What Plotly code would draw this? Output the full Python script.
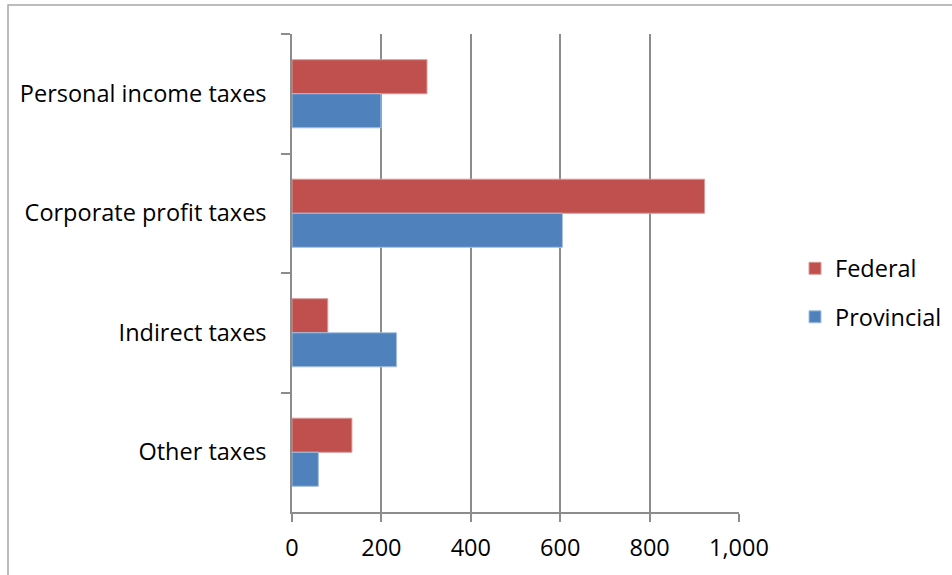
import plotly.graph_objects as go

categories = ["Personal income taxes", "Corporate profit taxes", "Indirect taxes", "Other taxes"]
federal = [302, 923, 80, 134]
provincial = [199, 605, 234, 59]
x_ticks = [0, 200, 400, 600, 800, 1000]
x_tick_labels = ["0", "200", "400", "600", "800", "1,000"]

RED = "#C0504D"
BLUE = "#4F81BD"
GRID = "#8C8C8C"
FONT = "Open Sans"
FS = 23.5

fig = go.Figure()
fig.add_trace(go.Bar(
    name="Federal", y=categories, x=federal, orientation="h",
    marker=dict(color=RED, line=dict(color="#D99A98", width=1)),
    legendgroup="f",
))
fig.add_trace(go.Bar(
    name="Provincial", y=categories, x=provincial, orientation="h",
    marker=dict(color=BLUE, line=dict(color="#A7C0DE", width=1)),
    legendgroup="p",
))

L, R, T, B = 292, 213, 34, 63
W, H = 952, 575
pw = W - L - R
ph = H - T - B

fig.update_layout(
    width=W, height=H,
    margin=dict(l=L, r=R, t=T, b=B, pad=0, autoexpand=False),
    paper_bgcolor="white", plot_bgcolor="white",
    barmode="group", bargap=0.43, bargroupgap=0,
    font=dict(family=FONT, size=FS, color="black"),
    showlegend=True,
    legend=dict(
        x=(795 - L) / pw, y=(H - B - 293) / ph, xanchor="left", yanchor="middle",
        traceorder="grouped", tracegroupgap=15,
        font=dict(family=FONT, size=FS), bgcolor="rgba(0,0,0,0)",
    ),
    xaxis=dict(
        range=[0, 1000], tickvals=x_ticks, ticktext=x_tick_labels,
        showgrid=True, gridcolor=GRID, gridwidth=1.5,
        showline=True, linecolor=GRID, linewidth=1.5,
        ticks="outside", ticklen=8, tickcolor=GRID, tickwidth=1.5,
        zeroline=False, fixedrange=True, automargin=False,
        ticklabelstandoff=6,
        tickfont=dict(family=FONT, size=FS),
    ),
    yaxis=dict(
        autorange="reversed", type="category", automargin=False,
        showline=True, linecolor=GRID, linewidth=1.5,
        ticks="outside", ticklen=9, tickcolor=GRID, tickwidth=1.5,
        tickson="boundaries", showgrid=False, fixedrange=True,
        ticklabelstandoff=19,
        tickfont=dict(family=FONT, size=FS),
    ),
    shapes=[dict(
        type="rect", xref="paper", yref="paper",
        x0=(8 - L) / pw, x1=(W + 20 - L) / pw,
        y0=(H - B - (H + 20)) / ph, y1=(H - B - 5) / ph,
        line=dict(color="#A6A6A6", width=1.5), fillcolor="rgba(0,0,0,0)",
        layer="below",
    )],
)

fig.write_html("out.html", config={"displayModeBar": False},
               post_script="document.body.style.margin='0';")
